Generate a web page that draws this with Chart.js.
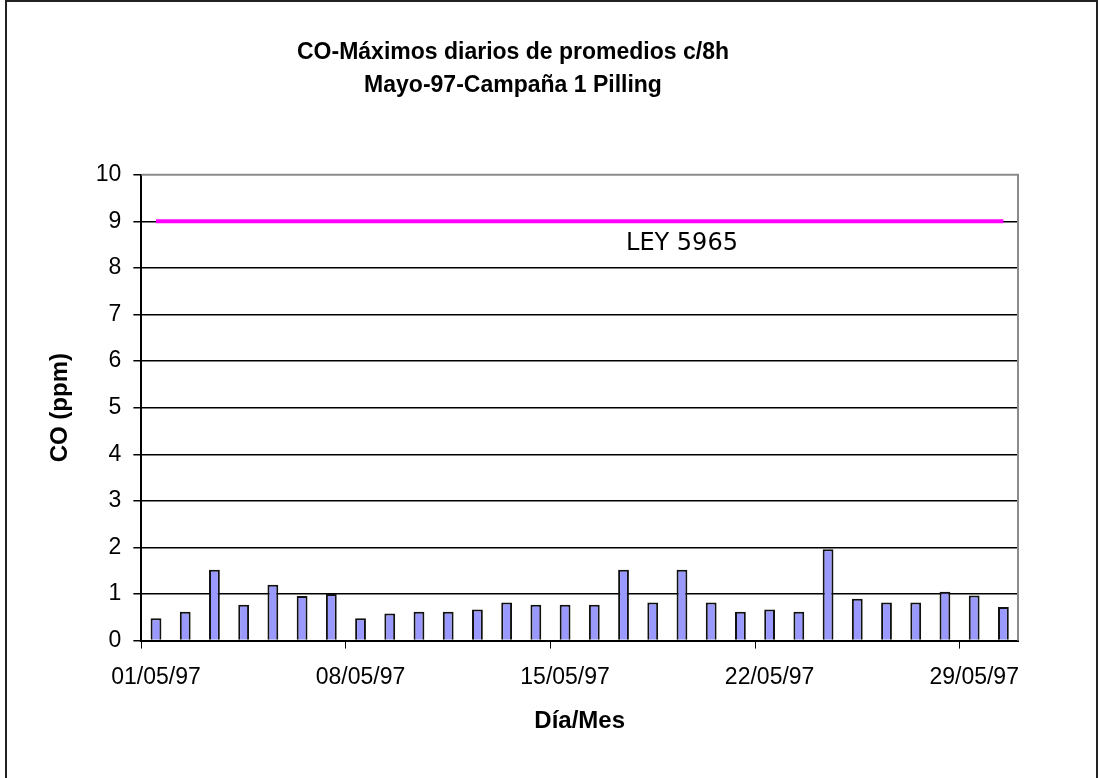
<!DOCTYPE html>
<html>
<head>
<meta charset="utf-8">
<script src="https://cdn.jsdelivr.net/npm/chart.js@4.4.1/dist/chart.umd.min.js"></script>
<style>
  html, body { margin: 0; padding: 0; background: #fff; }
  #wrap { position: relative; width: 1100px; height: 778px; }
  #frame { position: absolute; left: 5px; top: 0; width: 1093px; height: 790px; border: 2px solid #222; box-sizing: border-box; pointer-events: none; }
  canvas { position: absolute; left: 0; top: 0; }
</style>
</head>
<body>
<div id="wrap">
  <canvas id="co-chart" width="1100" height="778"></canvas>
  <div id="frame"></div>
</div>
<script>
// datos del gráfico
const dias = ['01/05/97', '02/05/97', '03/05/97', '04/05/97', '05/05/97', '06/05/97', '07/05/97', '08/05/97', '09/05/97', '10/05/97',
  '11/05/97', '12/05/97', '13/05/97', '14/05/97', '15/05/97', '16/05/97', '17/05/97', '18/05/97', '19/05/97', '20/05/97',
  '21/05/97', '22/05/97', '23/05/97', '24/05/97', '25/05/97', '26/05/97', '27/05/97', '28/05/97', '29/05/97', '30/05/97'];
const maximosCO = [0.48, 0.62, 1.52, 0.77, 1.2, 0.96, 1.0, 0.48, 0.58, 0.62,
  0.62, 0.67, 0.82, 0.77, 0.77, 0.77, 1.52, 0.82, 1.52, 0.82,
  0.62, 0.67, 0.62, 1.96, 0.9, 0.82, 0.82, 1.05, 0.97, 0.72];
const ley5965 = [9, 9, 9, 9, 9, 9, 9, 9, 9, 9, 9, 9, 9, 9, 9, 9, 9, 9, 9, 9, 9, 9, 9, 9, 9, 9, 9, 9, 9, 9];
const yTicks = [0, 1, 2, 3, 4, 5, 6, 7, 8, 9, 10];
const leyTexto = 'LEY 5965';

// marco gris del área de trazado + texto de la ley
const plotFrame = {
  id: 'plotFrame',
  beforeDatasetsDraw(chart) {
    const { ctx, chartArea } = chart;
    ctx.save();
    ctx.strokeStyle = '#8c8c8c';
    ctx.lineWidth = 2;
    ctx.beginPath();
    ctx.moveTo(chartArea.left, chartArea.top);
    ctx.lineTo(chartArea.right, chartArea.top);
    ctx.lineTo(chartArea.right, chartArea.bottom);
    ctx.stroke();
    ctx.restore();
  },
  afterDatasetsDraw(chart) {
    const { ctx, scales } = chart;
    ctx.save();
    ctx.font = '24px "DejaVu Sans"';
    ctx.fillStyle = '#000';
    ctx.textAlign = 'center';
    ctx.textBaseline = 'middle';
    ctx.fillText(leyTexto, scales.x.getPixelForValue(18), scales.y.getPixelForValue(8.52));
    ctx.restore();
  }
};

const ctx = document.getElementById('co-chart').getContext('2d');
const coChart = new Chart(ctx, {
  data: {
    labels: dias,
    datasets: [{
      type: 'line',
      label: 'LEY 5965',
      data: ley5965,
      borderColor: '#ff00ff',
      borderWidth: 4,
      pointRadius: 0,
      fill: false
    }, {
      type: 'bar',
      label: 'CO',
      data: maximosCO,
      backgroundColor: '#9999ff',
      borderColor: '#111',
      borderWidth: 2,
      categoryPercentage: 1,
      barPercentage: 0.37
    }]
  },
  options: {
    responsive: false,
    animation: false,
    devicePixelRatio: 1,
    layout: { padding: { left: 8, right: 82, top: 0, bottom: 42 } },
    plugins: {
      legend: { display: false },
      tooltip: { enabled: false },
      title: {
        display: true,
        text: ['CO-Máximos diarios de promedios c/8h', 'Mayo-97-Campaña 1 Pilling'],
        color: '#000',
        font: { family: '"Liberation Sans", Arial', size: 23, weight: 'bold', lineHeight: 1.43 },
        padding: { top: 36, bottom: 73 }
      }
    },
    scales: {
      x: {
        offset: true,
        grid: {
          offset: true,
          drawOnChartArea: false,
          tickLength: 8,
          color: c => (c.index % 7 === 0 ? '#000' : 'rgba(0,0,0,0)')
        },
        border: { color: '#000', width: 2 },
        ticks: {
          autoSkip: false,
          maxRotation: 0,
          padding: 15,
          color: '#000',
          font: { family: '"Liberation Sans", Arial', size: 23 },
          callback: (v, i) => (i % 7 === 0 ? dias[i] : '')
        },
        title: {
          display: true,
          text: 'Día/Mes',
          color: '#000',
          font: { family: '"Liberation Sans", Arial', size: 24, weight: 'bold' },
          padding: { top: 1, bottom: 0 }
        }
      },
      y: {
        min: 0,
        max: 10,
        afterBuildTicks: axis => { axis.ticks = yTicks.map(v => ({ value: v })); },
        grid: {
          tickLength: 8,
          lineWidth: 1.5,
          color: c => (c.tick && c.tick.value === 10 ? 'rgba(0,0,0,0)' : '#000'),
          tickColor: '#000'
        },
        border: { color: '#000', width: 2 },
        ticks: {
          padding: 12,
          color: '#000',
          font: { family: '"Liberation Sans", Arial', size: 23 }
        },
        title: {
          display: true,
          text: 'CO (ppm)',
          color: '#000',
          font: { family: '"Liberation Sans", Arial', size: 24, weight: 'bold' },
          padding: { top: 38, bottom: 9 }
        }
      }
    }
  },
  plugins: [plotFrame]
});
</script>
</body>
</html>
